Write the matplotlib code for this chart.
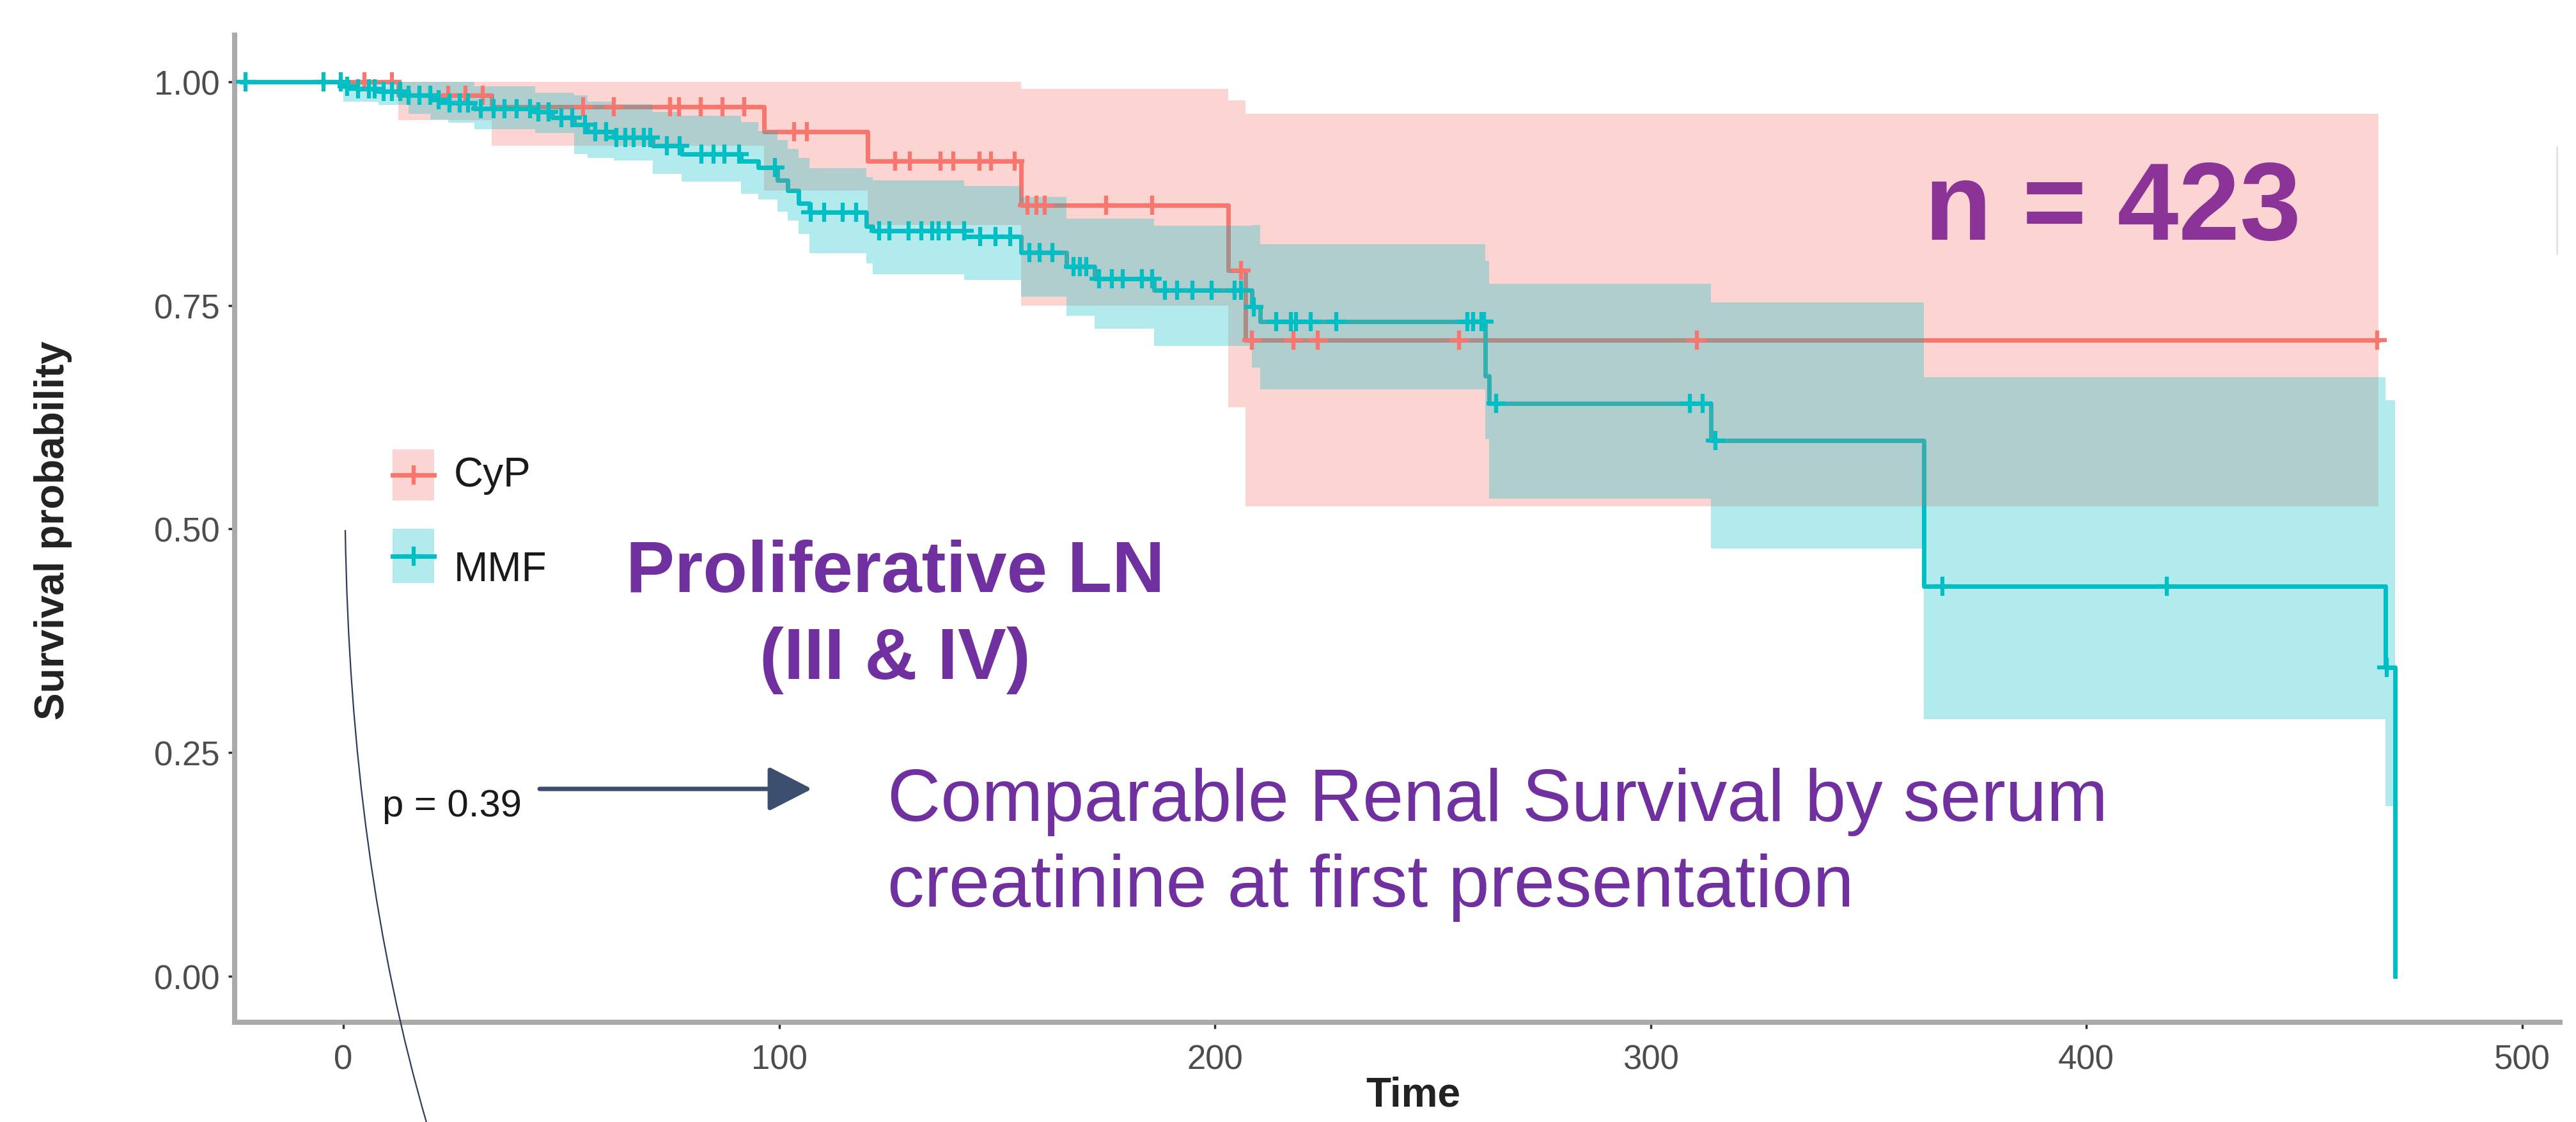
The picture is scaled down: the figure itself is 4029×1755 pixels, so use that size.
import numpy as np
import matplotlib
matplotlib.use('Agg')
import matplotlib.pyplot as plt
from matplotlib.path import Path
from matplotlib.patches import PathPatch, Rectangle, FancyArrowPatch
from matplotlib.lines import Line2D

W, H = 4029, 1756

RED = '#F8766D'
CYAN = '#00BFC4'
PURPLE = '#7030A0'
NARROW = ['Liberation Sans Narrow', 'Liberation Sans', 'DejaVu Sans']
ARIAL = ['Liberation Sans', 'DejaVu Sans']

# CyP arm: step times, survival, 95% CI
cyp_t = [-4.5, 12.6, 34, 96.5, 120.3, 155.5, 203, 207, 467]
cyp_s = [1.0, 0.985, 0.972, 0.944, 0.911, 0.862, 0.789, 0.711, 0.711]
cyp_lo = [1.0, 0.957, 0.928, 0.878, 0.840, 0.750, 0.636, 0.525, 0.525]
cyp_hi = [1.0, 1.0, 1.0, 1.0, 1.0, 0.992, 0.979, 0.964, 0.964]
cyp_cens = [-4.5, 4.8, 11.1, 24, 28, 32, 55, 62, 75, 77, 82, 87, 92, 103.4, 106.4,
            126.6, 130, 137, 140, 146, 148.6, 154, 157, 159, 161, 175, 185.6, 206,
            208.5, 218, 223.6, 256, 310.6, 466.8]

# MMF arm
mmf_t = [-23.4, 0, 3, 8, 15, 20, 24, 30, 44, 48, 53, 56, 62, 71, 77.6, 91.3, 95.2,
         99.6, 102, 104.5, 107, 120, 121.5, 142.5, 155.5, 166, 172.4, 186.1, 208.5,
         210.4, 262, 263, 313.9, 362.7, 468.7, 470.8]
mmf_s = [1.0, 0.995, 0.992, 0.989, 0.985, 0.980, 0.976, 0.970, 0.966, 0.960, 0.952,
         0.944, 0.938, 0.928, 0.919, 0.911, 0.904, 0.890, 0.878, 0.864, 0.854, 0.838,
         0.833, 0.827, 0.809, 0.793, 0.780, 0.767, 0.748, 0.732, 0.671, 0.640, 0.599,
         0.436, 0.345, 0.0]
mmf_lo = [1.0, 0.978, 0.978, 0.974, 0.964, 0.958, 0.954, 0.947, 0.9425, 0.9425, 0.919,
          0.915, 0.912, 0.897, 0.888, 0.875, 0.868, 0.855, 0.845, 0.830, 0.808, 0.797,
          0.785, 0.778, 0.760, 0.738, 0.724, 0.705, 0.680, 0.656, 0.600, 0.534, 0.478,
          0.287, 0.19, 0.19]
mmf_hi = [1.0, 1.0, 1.0, 1.0, 1.0, 1.0, 1.0, 0.995, 0.988, 0.988, 0.985, 0.978, 0.975,
          0.966, 0.962, 0.955, 0.945, 0.935, 0.925, 0.915, 0.903, 0.893, 0.890, 0.883,
          0.871, 0.847, 0.847, 0.839, 0.8395, 0.818, 0.800, 0.774, 0.7536, 0.6695,
          0.644, 0.644]
mmf_cens = [-22.4, -4.5, -0.6, 0.9, 3.3, 5.8, 7.2, 9.2, 11.1, 13.1, 15, 17.4, 19.9, 21.8,
            24.3, 26.7, 28.6, 31.6, 34.5, 36.9, 39.8, 42.8, 44.7, 47.1, 50.1, 52.5, 55.4,
            57.8, 60.3, 62.7, 64.7, 66.6, 69, 70.4, 74.3, 77.2, 82.1, 85, 87.4, 90.8,
            99.1, 107.3, 110.3, 114.6, 117.6, 122.9, 125.3, 129.7, 132.6, 135.1, 136.6,
            139, 142.4, 146.2, 149.6, 153, 157.4, 159.8, 162.7, 167.6, 169, 170.5, 173.4,
            176.3, 178.8, 183.2, 185.6, 188.5, 191.4, 194.8, 199.2, 204.6, 206, 208.9,
            214.1, 217.5, 218.6, 222, 227.8, 257.9, 259.3, 261.2, 261.8, 264.6, 309, 312,
            314.9, 367, 418.4, 468.9]

x_ticks = [0, 100, 200, 300, 400, 500]
y_ticks = [0.0, 0.25, 0.5, 0.75, 1.0]


def step_at(ts, ss, t):
    idx = np.searchsorted(np.array(ts), np.array(t), side='right') - 1
    return np.array(ss)[idx]


def fx(x):
    return x / W


def fy(y):
    return 1 - y / H


fig = plt.figure(figsize=(W / 100, H / 100), dpi=100)
ax = fig.add_axes([fx(367), fy(1600), (4004 - 367) / W, (1600 - 56) / H])

for t, s, cens, col in [(cyp_t, cyp_s, cyp_cens, RED), (mmf_t, mmf_s, mmf_cens, CYAN)]:
    ax.step(t, s, where='post', color=col, lw=5, zorder=2)
    ax.plot(cens, step_at(t, s, cens), ls='none', marker='+', ms=22, mew=4.5,
            color=col, zorder=4)

for t, lo, hi, col in [(cyp_t, cyp_lo, cyp_hi, RED), (mmf_t, mmf_lo, mmf_hi, CYAN)]:
    ax.fill_between(t, lo, hi, step='post', color=col, alpha=0.3, lw=0, zorder=3)

ax.set_xlim(-24.95, 508.7)
ax.set_ylim(-0.0515, 1.052)
ax.set_xticks(x_ticks)
ax.set_xticklabels([str(v) for v in x_ticks])
ax.set_yticks(y_ticks)
ax.set_yticklabels([f'{v:.2f}' for v in y_ticks])
for lab in ax.get_xticklabels() + ax.get_yticklabels():
    lab.set_family(NARROW)
    lab.set_fontsize(38)
    lab.set_color('#4d4d4d')
ax.tick_params(axis='both', length=7, width=2.5, color='#333333')
ax.tick_params(axis='y', pad=10)
ax.tick_params(axis='x', pad=17)
for side in ['top', 'right']:
    ax.spines[side].set_visible(False)
for side in ['left', 'bottom']:
    ax.spines[side].set_color('#aaaaaa')
    ax.spines[side].set_linewidth(5.8)
ax.patch.set_alpha(0)

# axis titles
fig.text(fx(83), fy(830), 'Survival probability', rotation=90, ha='center', va='center',
         fontsize=46, fontweight='bold', color='#222222', family=ARIAL)
fig.text(fx(2210), fy(1714), 'Time', ha='center', va='center',
         fontsize=46, fontweight='bold', color='#222222', family=ARIAL)

# legend
for (y0, y1, ytxt, col, lab) in [(704, 784, 744, RED, 'CyP'), (828, 913, 892, CYAN, 'MMF')]:
    fig.add_artist(Rectangle((fx(614), fy(y1)), (679 - 614) / W, (y1 - y0) / H,
                             transform=fig.transFigure, facecolor=col, alpha=0.3, lw=0))
    yc = fy((y0 + y1) / 2)
    fig.add_artist(Line2D([fx(614), fx(679)], [yc, yc], transform=fig.transFigure,
                          color=col, lw=5))
    fig.add_artist(Line2D([fx(646.5)], [yc], transform=fig.transFigure, color=col,
                          marker='+', ms=22, mew=4.5, ls='none'))
    fig.text(fx(710), fy(ytxt), lab, ha='left', va='center', fontsize=46,
             color='#1a1a1a', family=NARROW)

# annotations
fig.text(fx(3304), fy(375), 'n = 423', ha='center', va='baseline', fontsize=124,
         fontweight='bold', color='#8B3397', family=ARIAL)
fig.text(fx(1400), fy(926), 'Proliferative LN', ha='center', va='baseline', fontsize=82,
         fontweight='bold', color=PURPLE, family=ARIAL)
fig.text(fx(1400), fy(1062), '(III & IV)', ha='center', va='baseline', fontsize=82,
         fontweight='bold', color=PURPLE, family=ARIAL)
fig.text(fx(1388), fy(1284), 'Comparable Renal Survival by serum', ha='left',
         va='baseline', fontsize=83, color=PURPLE, family=ARIAL)
fig.text(fx(1388), fy(1418), 'creatinine at first presentation', ha='left',
         va='baseline', fontsize=83, color=PURPLE, family=ARIAL)
fig.text(fx(598), fy(1277), 'p = 0.39', ha='left', va='baseline', fontsize=43,
         color='#1a1a1a', family=NARROW)

arrow = FancyArrowPatch((fx(844), fy(1235)), (fx(1270), fy(1235)),
                        transform=fig.transFigure,
                        arrowstyle='-|>,head_length=42,head_width=21.5',
                        mutation_scale=1, lw=5, color='#3c4f6e',
                        shrinkA=0, shrinkB=0)
fig.add_artist(arrow)

curve = Path([(fx(540), fy(830)), (fx(548), fy(1350)), (fx(668), fy(1760))],
             [Path.MOVETO, Path.CURVE3, Path.CURVE3])
fig.add_artist(PathPatch(curve, transform=fig.transFigure, facecolor='none',
                         edgecolor='#2c3e5c', lw=1.6))

fig.add_artist(Line2D([fx(3999), fx(3999)], [fy(231), fy(398)], transform=fig.transFigure,
                      color='#e2e2e2', lw=2))

fig.savefig('out.png', dpi=100)
